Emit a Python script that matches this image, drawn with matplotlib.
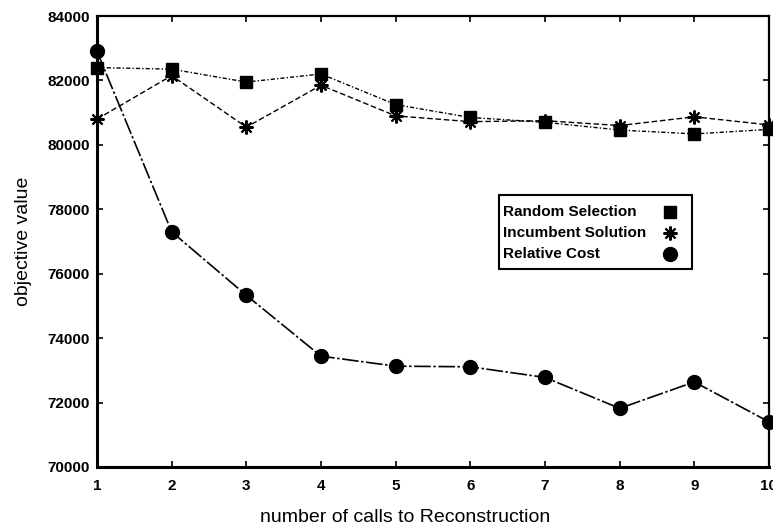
import numpy as np
import matplotlib.pyplot as plt
from matplotlib.patches import Rectangle

plt.rcParams['font.family'] = ['Liberation Sans', 'DejaVu Sans']

calls = [1, 2, 3, 4, 5, 6, 7, 8, 9, 10]
random_sel = [82400, 82350, 81950, 82200, 81250, 80850, 80700, 80460, 80340, 80480]
incumbent = [80800, 82150, 80550, 81850, 80900, 80720, 80750, 80600, 80870, 80620]
relative = [82900, 77300, 75330, 73440, 73130, 73110, 72780, 71820, 72640, 71400]
labels = ['Random Selection', 'Incumbent Solution', 'Relative Cost']

xticks = list(range(1, 11))
yticks = list(range(70000, 84001, 2000))

fig = plt.figure(figsize=(7.73, 5.30), dpi=100)
ax = fig.add_axes([0.1255, 0.1189, 0.8693, 0.8509])

star = (8, 2, 0)
styles = [dict(marker='s', ms=9),
          dict(marker=star, ms=10, mew=1.5),
          dict(marker='o', ms=10)]
ax.plot(calls, random_sel, color='black', lw=1.0, dashes=(3, 1.5, 1, 1.5),
        clip_on=False, zorder=3, **styles[0])
ax.plot(calls, incumbent, color='black', lw=1.0, dashes=(4, 2),
        clip_on=False, zorder=3, **styles[1])
ax.plot(calls, relative, color='black', lw=1.2, dashes=(10, 1.5, 1.5, 1.5),
        clip_on=False, zorder=3, **styles[2])

ax.set_xlim(1, 10)
ax.set_ylim(70000, 84000)
ax.set_xticks(xticks)
ax.set_yticks(yticks)
ax.tick_params(direction='in', length=4, width=1.2, top=True, right=True,
               labelsize=11)
ax.tick_params(axis='x', pad=9)
ax.tick_params(axis='y', pad=5)
for lab in ax.get_xticklabels() + ax.get_yticklabels():
    lab.set_fontweight('bold')
for side in ['top', 'right']:
    ax.spines[side].set_linewidth(1.6)
for side in ['left', 'bottom']:
    ax.spines[side].set_linewidth(2.2)

ax.set_xlabel('number of calls to Reconstruction', fontsize=14)
ax.xaxis.set_label_coords(0.458, -0.094)
ax.set_ylabel('objective value', fontsize=14)
ax.yaxis.set_label_coords(-0.097, 0.5)

# legend box drawn by hand (gnuplot style: text left, marker right)
ax.add_patch(Rectangle((0.598, 0.439), 0.287, 0.164, transform=ax.transAxes,
                       facecolor='white', edgecolor='black', lw=1.5, zorder=4))
rows = [0.565, 0.519, 0.472]
for lab, yy, st in zip(labels, rows, styles):
    ax.text(0.604, yy, lab, transform=ax.transAxes, fontsize=11, fontweight='bold',
            va='center', ha='left', zorder=5)
    ax.plot([0.853], [yy], color='black', ls='none', transform=ax.transAxes,
            zorder=5, clip_on=False, **st)

fig.savefig('out.png', dpi=100)
